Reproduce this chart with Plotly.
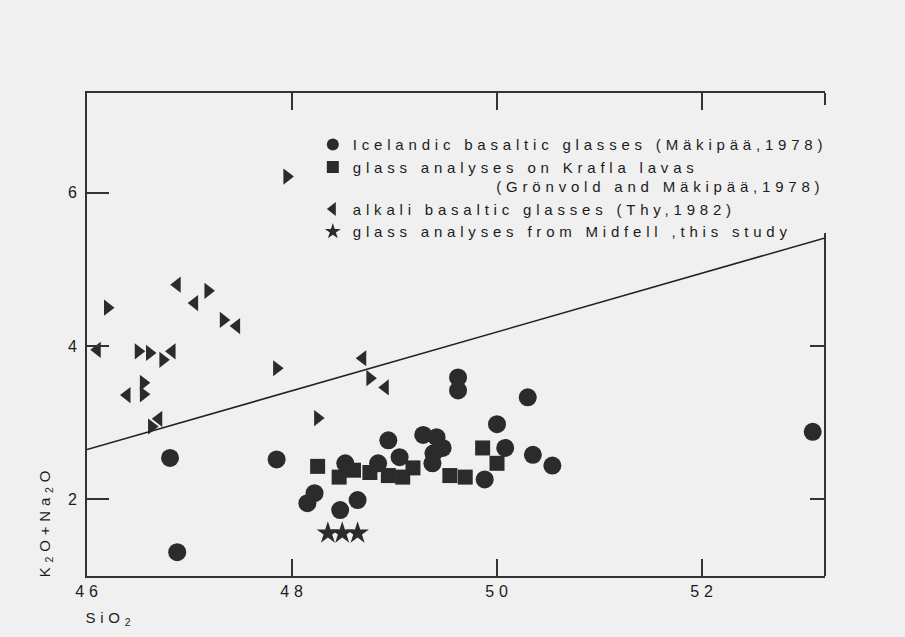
import plotly.graph_objects as go

# ---------------- data ----------------
# Icelandic basaltic glasses (Mäkipää, 1978)
ice_x = [46.88, 46.81, 47.85, 48.15, 48.22, 48.47, 48.64, 48.52, 48.84, 48.94,
         49.05, 49.28, 49.41, 49.47, 49.38, 49.37, 49.62, 49.62, 50.00, 50.08,
         49.88, 50.30, 50.35, 50.54, 53.08]
ice_y = [1.31, 2.54, 2.52, 1.95, 2.08, 1.86, 1.99, 2.47, 2.47, 2.77,
         2.55, 2.84, 2.81, 2.67, 2.60, 2.47, 3.59, 3.42, 2.98, 2.67,
         2.26, 3.33, 2.58, 2.44, 2.88]

# glass analyses on Krafla lavas (Grönvold and Mäkipää, 1978)
kr_x = [48.25, 48.46, 48.60, 48.76, 48.94, 49.08, 49.18, 49.54, 49.69, 49.86, 50.00]
kr_y = [2.43, 2.29, 2.38, 2.35, 2.31, 2.29, 2.41, 2.31, 2.29, 2.67, 2.47]

# alkali basaltic glasses (Thy, 1982) - left and right pointing symbols
thy_left_x = [46.88, 47.05, 47.46, 46.10, 46.83, 46.39, 46.70, 48.69, 48.91]
thy_left_y = [4.80, 4.56, 4.26, 3.95, 3.93, 3.36, 3.05, 3.84, 3.46]
thy_right_x = [47.18, 46.20, 47.33, 46.50, 46.61, 46.74, 47.85, 46.55, 46.55,
               46.63, 47.95, 48.25, 48.76]
thy_right_y = [4.72, 4.50, 4.34, 3.93, 3.91, 3.82, 3.71, 3.52, 3.37,
               2.95, 6.21, 3.06, 3.58]

# glass analyses from Midfell, this study
mid_x = [48.35, 48.49, 48.64]
mid_y = [1.56, 1.56, 1.56]

# dividing line
div_x = [46.0, 53.2]
div_y = [2.65, 5.41]

x_ticks = [46, 48, 50, 52]
y_ticks = [2, 4, 6]
y_ticks_right = [2, 4]

names = [
    "Icelandic basaltic glasses (Mäkipää,1978)",
    "glass analyses on Krafla lavas<br>" + "\u00a0" * 16 + "(Grönvold and Mäkipää,1978)",
    "alkali basaltic glasses (Thy,1982)",
    "glass analyses from Midfell ,this study",
]

# ---------------- figure ----------------
INK = "#2b2b2b"
BG = "#f0f0f0"
TXT = "#1c1c1c"
FONT = "Liberation Sans, Arial, sans-serif"

fig = go.Figure()

fig.add_trace(go.Scatter(
    x=div_x, y=div_y, mode="lines", yaxis="y2",
    line=dict(color="#222222", width=1.6), showlegend=False, hoverinfo="skip"))

fig.add_trace(go.Scatter(
    x=ice_x, y=ice_y, mode="markers", name=names[0],
    marker=dict(symbol="circle", size=18, color=INK, line=dict(width=0))))

fig.add_trace(go.Scatter(
    x=kr_x, y=kr_y, mode="markers", name=names[1],
    marker=dict(symbol="square", size=15, color=INK, line=dict(width=0))))

thy_x = thy_left_x + thy_right_x
thy_y = thy_left_y + thy_right_y
thy_sym = ["triangle-left"] * len(thy_left_x) + ["triangle-right"] * len(thy_right_x)
fig.add_trace(go.Scatter(
    x=thy_x, y=thy_y, mode="markers", name=names[2],
    marker=dict(symbol=thy_sym, size=14, color=INK, line=dict(width=0))))

fig.add_trace(go.Scatter(
    x=mid_x, y=mid_y, mode="markers", name=names[3],
    marker=dict(symbol="star", size=17, color=INK, line=dict(width=0))))

axis_common = dict(showgrid=False, zeroline=False, ticks="inside",
                   tickcolor="#333333", tickwidth=2, linecolor="#333333", linewidth=2)

fig.update_layout(
    width=905, height=637, autosize=False,
    margin=dict(l=87, r=80, t=93, b=61, autoexpand=False),
    paper_bgcolor=BG, plot_bgcolor=BG,
    font=dict(family=FONT, size=15, color=TXT),
    xaxis=dict(range=[46, 53.2], tickvals=x_ticks, ticklen=17, showline=True,
               mirror="ticks", tickfont=dict(size=16, color=TXT), ticklabelshift=2,
               **axis_common),
    yaxis=dict(range=[1.0, 7.3], tickvals=y_ticks, ticklen=22, showline=True,
               mirror=False, tickfont=dict(size=16, color=TXT), **axis_common),
    yaxis2=dict(range=[1.0, 7.3], overlaying="y", side="right", tickvals=y_ticks_right,
                ticklen=15, showline=False, showticklabels=False, **axis_common),
    showlegend=True,
    legend=dict(x=0.306, y=0.927, xanchor="left", yanchor="top",
                bgcolor="rgba(0,0,0,0)", valign="top", itemsizing="constant",
                font=dict(family=FONT, size=15, color=TXT),
                itemclick=False, tracegroupgap=0),
    annotations=[
        dict(text="SiO<sub>2</sub>", xref="paper", yref="paper", x=0.0, y=0,
             xanchor="left", yanchor="middle", xshift=6, yshift=-42, showarrow=False,
             font=dict(size=15, color=TXT)),
        dict(text="K<sub>2</sub>O+Na<sub>2</sub>O", xref="paper", yref="paper",
             x=0, y=0, xshift=-42, yshift=54, textangle=-90,
             xanchor="center", yanchor="middle", showarrow=False,
             font=dict(size=15, color=TXT)),
    ],
    shapes=[
        # right frame: lower part and short stub at the top (gap in between, as in scan)
        dict(type="line", xref="paper", yref="paper", x0=1, x1=1, y0=0, y1=0.71,
             line=dict(color="#333333", width=2)),
        dict(type="line", xref="paper", yref="paper", x0=1, x1=1, y0=0.975, y1=1,
             line=dict(color="#333333", width=2)),
    ],
)

# wide letter tracking of the typewriter-style lettering in the original
js = """
var s = document.createElement('style');
s.textContent = '.legendtext, .annotation-text, .xtick text, .ytick text { letter-spacing: 4.8px; }' +
                ' .legend .scrollbox, .legend g { clip-path: none !important; }';
document.head.appendChild(s);
"""

fig.write_html("out.html", post_script=js)
